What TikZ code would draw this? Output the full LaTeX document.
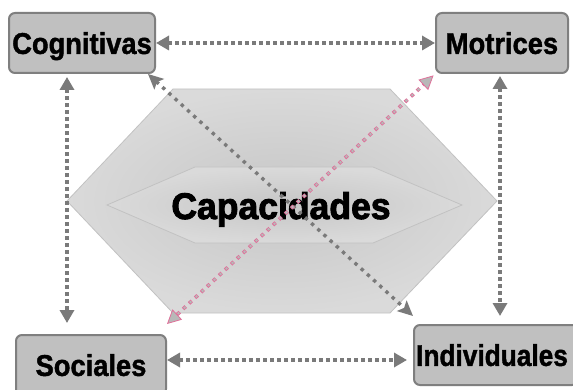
\documentclass[tikz,border=0pt]{standalone}
\usepackage{fontspec}
\setmainfont{Liberation Sans}
\newfontface\heavy{Liberation Sans Bold}[FakeBold=1.5]
\newfontface\heavier{Liberation Sans Bold}[FakeBold=2.5]
\usetikzlibrary{arrows.meta,calc}
\definecolor{boxfill}{HTML}{C0C0C0}
\definecolor{boxline}{HTML}{7F7F7F}
\definecolor{arr}{HTML}{7A7A7A}
\definecolor{pinkc}{HTML}{E0709A}
\definecolor{pinkin}{HTML}{B8B8B8}
\definecolor{hexout}{HTML}{DADADA}
\definecolor{hexin}{HTML}{C6C6C6}
\definecolor{hexline}{HTML}{C2C2C2}
\newcommand{\boxtxt}[1]{\scalebox{0.91}[1]{#1}}
\begin{document}
\begin{tikzpicture}[x=1pt,y=-1pt,
  box/.style={draw=boxline, fill=boxfill, line width=2pt, rounded corners=6pt,
    minimum height=60pt, inner sep=0pt, font=\fontsize{30}{32}\heavy,
    text height=21.8pt, text depth=0pt},
  tipA/.tip={Triangle[length=13pt,width=14pt]},
  link/.style={draw=arr, line width=4pt, dash pattern=on 4pt off 3pt, tipA-tipA},
  diag/.style={draw=arr, line width=3.4pt, dash pattern=on 3.4pt off 5pt,
    {Stealth[length=15pt,width=14pt,inset=3pt]}-{Stealth[length=15pt,width=14pt,inset=3pt]}},
  pinkout/.style={draw=pinkc, line width=3.6pt, dash pattern=on 3.6pt off 4.6pt,
    {Triangle[length=14pt,width=14pt,fill=pinkin,color=pinkc,line width=0.8pt]}-{Triangle[length=14pt,width=14pt,fill=pinkin,color=pinkc,line width=0.8pt]}},
  pinkinner/.style={draw=pinkin, line width=2pt, dash pattern=on 2pt off 6.2pt, dash phase=-0.8pt},
  hex/.style={inner color=hexin, outer color=hexout, draw=hexline, line width=0.8pt}
]
\useasboundingbox (0,0) rectangle (573,390);
\fill[white] (0,0) rectangle (573,390);

% hexagons
\shade[hex] (173,89) -- (390,89) -- (497,201) -- (390,313) -- (173,313) -- (67,201) -- cycle;
\shade[hex] (195,167) -- (373,167) -- (462,205) -- (373,243) -- (195,243) -- (107,205) -- cycle;

\node[font=\fontsize{37}{40}\heavier, anchor=base, inner sep=0pt] (cap) at (281,219) {\scalebox{0.96}[1]{Capacidades}};

% boxes
\node[box, minimum width=146pt] (cog) at (82,43) {\boxtxt{Cognitivas}};
\node[box, minimum width=132pt] (mot) at (502,43) {\boxtxt{Motrices}};
\node[box, minimum width=150pt] (soc) at (91,365) {\boxtxt{Sociales}};
\node[box, minimum width=164pt] (ind) at (496,355) {\hspace*{-8pt}\scalebox{0.875}[1]{Individuales}};

% connectors
\draw[link] (cog.east) -- (mot.west);
\draw[link, shorten <=3pt, shorten >=11pt] ([xshift=-15pt]cog.south) -- ([xshift=-24pt]soc.north);
\draw[link, shorten <=2pt, shorten >=8pt] ([xshift=-2pt]mot.south) -- ([xshift=4pt]ind.north);
\draw[link, shorten >=6pt] ([yshift=5pt]soc.east) -- ([yshift=-5pt]ind.west);
\draw[diag] ([xshift=-8pt]cog.south east) -- ([yshift=8pt]ind.north west);
\draw[pinkout, shorten >=2pt] ([yshift=10pt]soc.north east) -- (mot.south west);
\draw[pinkinner, shorten <=14pt, shorten >=16pt] ([yshift=10pt]soc.north east) -- (mot.south west);
\end{tikzpicture}
\end{document}
